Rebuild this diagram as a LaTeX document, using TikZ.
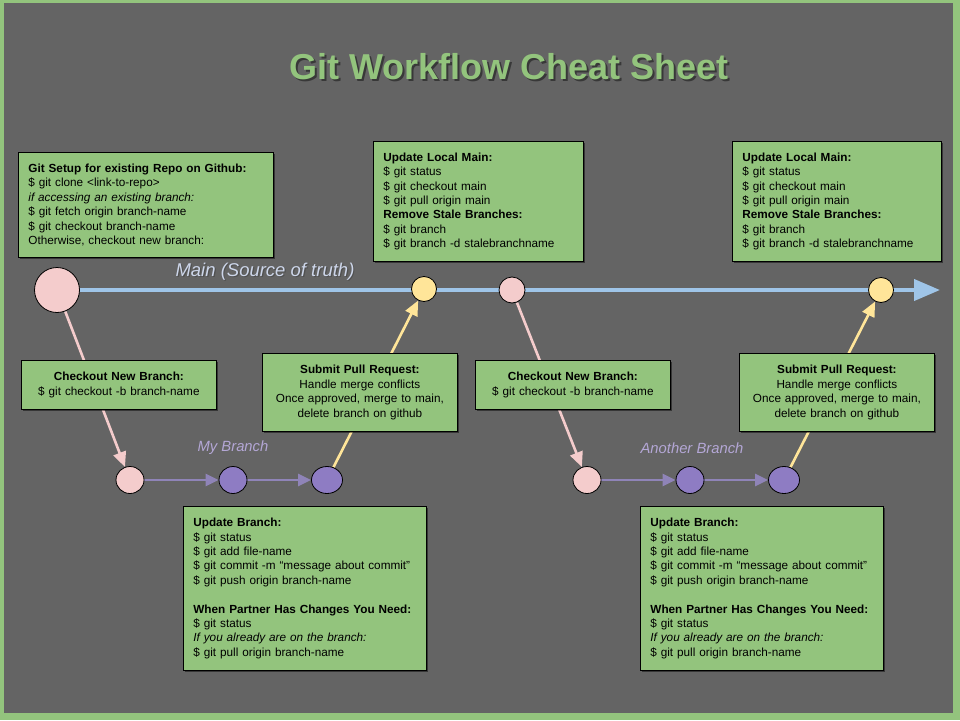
\documentclass[tikz,border=0pt]{standalone}
\usepackage{fontspec}
\setmainfont{Liberation Sans}
\usetikzlibrary{arrows.meta,shadows,shapes.geometric}
\definecolor{bggray}{HTML}{646464}
\definecolor{framegreen}{HTML}{93C47D}
\definecolor{boxgreen}{HTML}{93C47D}
\definecolor{pinkc}{HTML}{F4CCCC}
\definecolor{yellowc}{HTML}{FFE599}
\definecolor{purplec}{HTML}{8E7CC3}
\definecolor{purpleline}{HTML}{8F84B8}
\definecolor{bluec}{HTML}{9FC5E8}
\definecolor{mainlbl}{HTML}{CDD6EA}
\definecolor{branchlbl}{HTML}{B4A7D6}
\definecolor{shadowc}{HTML}{383838}
\definecolor{shadowlight}{HTML}{505050}
\pgfdeclarelayer{back}
\pgfdeclarelayer{lines}
\pgfsetlayers{back,lines,main}
\newcommand{\boxfont}{\fontsize{11.75}{14.4}\selectfont}
\newcommand{\shadowtext}[4]{\makebox[0pt][l]{\hspace{#3}\raisebox{-#3}{\textcolor{#2}{#1}}}\textcolor{#4}{#1}}
\begin{document}
\begin{tikzpicture}[x=1pt,y=-1pt,
  box/.style={draw=black, line width=0.8pt, fill=boxgreen, anchor=north west,
    inner xsep=10pt, inner ysep=0pt, align=left, font=\boxfont, text=black,
    drop shadow={shadow xshift=2pt, shadow yshift=-2pt, opacity=0.45, fill=black}},
  cbox/.style={box, align=center},
  commit/.style={ellipse, draw=black, line width=0.8pt, minimum width=28pt, minimum height=27pt, inner sep=0pt},
  pinkdot/.style={commit, fill=pinkc},
  yellowdot/.style={commit, fill=yellowc, minimum width=25pt, minimum height=25pt},
  purpledot/.style={commit, fill=purplec},
  pinkarrow/.style={draw=pinkc, line width=2.6pt, -{Triangle[length=15pt,width=13pt]}},
  yellowarrow/.style={draw=yellowc, line width=2.6pt, -{Triangle[length=15pt,width=13pt]}},
  purplearrow/.style={draw=purpleline, line width=2.6pt, -{Triangle[length=13pt,width=12pt]}},
  lbl/.style={font=\fontsize{18.5}{22}\selectfont\itshape},
  branchlabel/.style={font=\fontsize{14.8}{18}\selectfont\itshape},
]
\useasboundingbox (0,0) rectangle (960,720);
\begin{pgfonlayer}{back}
\fill[framegreen] (0,0) rectangle (960,720);
\fill[bggray] (4,3) rectangle (953,713);
\end{pgfonlayer}

% title
\node[font=\fontsize{36}{42}\selectfont\bfseries] (title) at (509,68) {\shadowtext{Git Workflow Cheat Sheet}{shadowc}{2.2pt}{boxgreen}};

% main line commits
\node[pinkdot, minimum width=45pt, minimum height=45pt] (start) at (57,290) {};
\node[yellowdot] (m1) at (424,289) {};
\node[pinkdot, minimum width=26pt, minimum height=26pt] (m2) at (512,290) {};
\node[yellowdot] (m3) at (881,290) {};
\coordinate (mainend) at (940,290);

% branch commits
\node[pinkdot] (b1) at (130,480) {};
\node[purpledot] (b2) at (233,480) {};
\node[purpledot, minimum width=31pt] (b3) at (327,480) {};
\node[pinkdot] (a1) at (587,480) {};
\node[purpledot] (a2) at (690,480) {};
\node[purpledot, minimum width=31pt] (a3) at (784,480) {};

% labels
\node[lbl] (mainlabel) at (265,272) {\shadowtext{Main (Source of truth)}{shadowlight}{1.2pt}{mainlbl}};
\node[branchlabel, text=branchlbl] (mybranch) at (233,448) {My Branch};
\node[branchlabel, text=branchlbl] (anotherbranch) at (692,448) {Another Branch};

% connectors
\begin{pgfonlayer}{lines}
\draw[draw=bluec, line width=4pt, -{Triangle[length=26pt,width=21pt]}] (start.center) -- (mainend);
\draw[pinkarrow] (start) -- (b1);
\draw[pinkarrow] (m2) -- (a1);
\draw[purplearrow] (b1) -- (b2);
\draw[purplearrow] (b2) -- (b3);
\draw[purplearrow] (a1) -- (a2);
\draw[purplearrow] (a2) -- (a3);
\draw[yellowarrow] (b3) -- (m1);
\draw[yellowarrow] (a3) -- (m3);
\end{pgfonlayer}

% boxes
\node[box, text width=235pt, minimum height=105pt] (setup) at (18,152) {%
\textbf{Git Setup for existing Repo on Github:}\\
\$ git clone <link-to-repo>\\
\textit{if accessing an existing branch:}\\
\$ git fetch origin branch-name\\
\$ git checkout branch-name\\
Otherwise, checkout new branch:};

\node[box, text width=190pt, minimum height=120pt] (ulm1) at (373,141) {%
\textbf{Update Local Main:}\\
\$ git status\\
\$ git checkout main\\
\$ git pull origin main\\
\textbf{Remove Stale Branches:}\\
\$ git branch\\
\$ git branch -d stalebranchname};

\node[box, text width=189pt, minimum height=120pt] (ulm2) at (732,141) {%
\textbf{Update Local Main:}\\
\$ git status\\
\$ git checkout main\\
\$ git pull origin main\\
\textbf{Remove Stale Branches:}\\
\$ git branch\\
\$ git branch -d stalebranchname};

\node[cbox, text width=175pt, minimum height=49pt] (co1) at (21,360) {%
\textbf{Checkout New Branch:}\\
\$ git checkout -b branch-name};

\node[cbox, text width=175pt, minimum height=49pt] (co2) at (475,360) {%
\textbf{Checkout New Branch:}\\
\$ git checkout -b branch-name};

\node[cbox, text width=175pt, minimum height=78pt] (pr1) at (262,353) {%
\textbf{Submit Pull Request:}\\
Handle merge conflicts\\
Once approved, merge to main,\\
delete branch on github};

\node[cbox, text width=175pt, minimum height=78pt] (pr2) at (739,353) {%
\textbf{Submit Pull Request:}\\
Handle merge conflicts\\
Once approved, merge to main,\\
delete branch on github};

\node[box, text width=223pt, minimum height=164pt] (ub1) at (183,506) {%
\textbf{Update Branch:}\\
\$ git status\\
\$ git add file-name\\
\$ git commit -m “message about commit”\\
\$ git push origin branch-name\\[14.4pt]
\textbf{When Partner Has Changes You Need:}\\
\$ git status\\
\textit{If you already are on the branch:}\\
\$ git pull origin branch-name};

\node[box, text width=223pt, minimum height=164pt] (ub2) at (640,506) {%
\textbf{Update Branch:}\\
\$ git status\\
\$ git add file-name\\
\$ git commit -m “message about commit”\\
\$ git push origin branch-name\\[14.4pt]
\textbf{When Partner Has Changes You Need:}\\
\$ git status\\
\textit{If you already are on the branch:}\\
\$ git pull origin branch-name};
\end{tikzpicture}
\end{document}
